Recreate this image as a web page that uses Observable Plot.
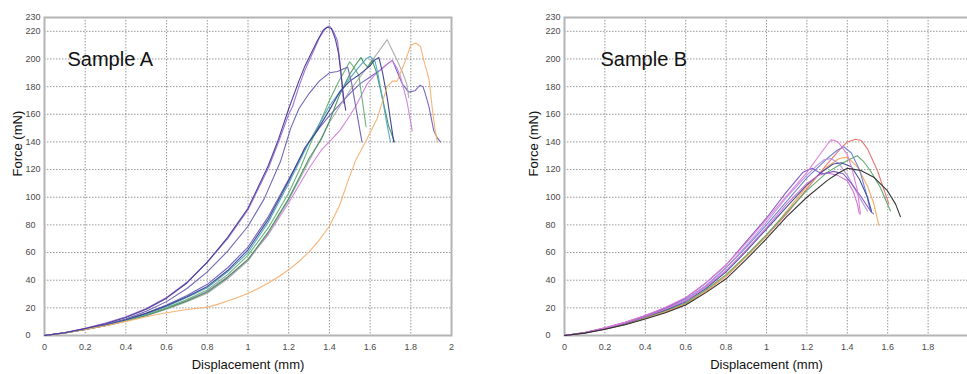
<!DOCTYPE html>
<html>
<head>
<meta charset="utf-8">
<script src="https://cdn.jsdelivr.net/npm/d3@7"></script>
<script src="https://cdn.jsdelivr.net/npm/@observablehq/plot@0.6"></script>
<style>
  html, body { margin: 0; padding: 0; background: #fff; width: 967px; height: 374px; overflow: hidden; }
  #left { position: absolute; left: 0; top: 0; width: 480px; }
  #right { position: absolute; left: 480px; top: 0; width: 490px; }
</style>
</head>
<body>
<div id="left"></div>
<div id="right"></div>
<script>
// ---- tick values ----
const xTicksA = [0, 0.2, 0.4, 0.6, 0.8, 1, 1.2, 1.4, 1.6, 1.8, 2];
const xTicksB = [0, 0.2, 0.4, 0.6, 0.8, 1, 1.2, 1.4, 1.6, 1.8];
const xGrid = [0.2, 0.4, 0.6, 0.8, 1, 1.2, 1.4, 1.6, 1.8];
const yTicks = [0, 20, 40, 60, 80, 100, 120, 140, 160, 180, 200, 220, 230];
const yGrid = [20, 40, 60, 80, 100, 120, 140, 160, 180, 200, 220];

// ---- Sample A curves: [displacement mm, force mN] ----
const a1 = [[0,0],[0.1,2],[0.2,5],[0.3,8.5],[0.4,13],[0.5,19],[0.6,27],[0.7,38],[0.8,53],[0.9,71],[1.0,92],[1.1,123],[1.15,142],[1.2,164],[1.25,184],[1.28,195],[1.31,204],[1.34,213],[1.37,221],[1.39,223],[1.41,222],[1.43,214],[1.445,204],[1.455,192],[1.47,172],[1.48,163]];
const a2 = [[0,0],[0.1,2.2],[0.2,5.3],[0.3,9],[0.4,13.5],[0.5,19.5],[0.6,27.5],[0.7,38.5],[0.8,53],[0.9,70],[1.0,91],[1.1,121],[1.15,140],[1.2,160],[1.22,166],[1.25,180],[1.28,192],[1.32,205],[1.35,215],[1.38,222],[1.4,224],[1.42,220],[1.44,213],[1.45,200],[1.46,185],[1.47,168]];
const a3 = [[0,0],[0.1,2],[0.2,4.8],[0.3,8],[0.4,12],[0.5,17.5],[0.6,24.5],[0.7,34],[0.8,46],[0.9,61],[1.0,79],[1.08,99],[1.16,126],[1.21,150],[1.25,164],[1.3,175],[1.35,184],[1.4,190],[1.44,191],[1.47,193],[1.49,194],[1.51,182],[1.53,165],[1.56,140]];
const a4 = [[0,0],[0.1,1.8],[0.2,4.4],[0.3,7.2],[0.4,10.8],[0.5,15],[0.6,20],[0.7,26],[0.8,33],[0.9,44],[1.0,58],[1.1,78],[1.2,103],[1.26,122],[1.31,140],[1.36,156],[1.4,170],[1.45,185],[1.47,190],[1.5,198],[1.52,194],[1.545,188],[1.56,172],[1.58,151]];
const a5 = [[0,0],[0.1,1.8],[0.2,4.3],[0.3,7],[0.4,10.5],[0.5,14.5],[0.6,19.5],[0.7,25],[0.8,31.5],[0.9,42],[1.0,55],[1.1,75],[1.2,99],[1.3,128],[1.36,142],[1.4,155],[1.45,174],[1.5,189],[1.53,196],[1.555,201],[1.57,197],[1.59,194],[1.61,199],[1.63,191],[1.66,172],[1.69,152],[1.72,140]];
const a6 = [[0,0],[0.1,1.9],[0.2,4.5],[0.3,7.5],[0.4,11.2],[0.5,15.8],[0.6,21],[0.7,27.5],[0.8,34.5],[0.9,46],[1.0,60],[1.1,82],[1.2,110],[1.3,140],[1.35,153],[1.4,166],[1.45,176],[1.5,186],[1.55,195],[1.58,200],[1.6,202],[1.625,198],[1.64,188],[1.66,172],[1.68,155],[1.7,140]];
const a7 = [[0,0],[0.1,2],[0.2,4.6],[0.3,7.6],[0.4,11.4],[0.5,16],[0.6,21.5],[0.7,28],[0.8,35.5],[0.9,47],[1.0,62],[1.1,84],[1.2,112],[1.28,136],[1.33,146],[1.4,163],[1.45,176],[1.5,184],[1.55,189],[1.6,195],[1.62,199],[1.643,201],[1.66,191],[1.684,172],[1.7,156],[1.716,140]];
const a8 = [[0,0],[0.1,1.8],[0.2,4.3],[0.3,7],[0.4,10.4],[0.5,14.3],[0.6,19],[0.7,24.5],[0.8,30.5],[0.9,41],[1.0,54],[1.1,74],[1.2,98],[1.3,126],[1.4,154],[1.5,177],[1.55,187],[1.6,197],[1.64,205],[1.684,214],[1.71,206],[1.733,199],[1.76,190],[1.78,182],[1.79,172]];
const a9 = [[0,0],[0.1,1.8],[0.2,4.4],[0.3,7.2],[0.4,10.8],[0.5,14.8],[0.6,19.8],[0.7,25.5],[0.8,32],[0.9,42.5],[1.0,55],[1.1,73],[1.2,96],[1.3,121],[1.36,134],[1.405,141],[1.45,148],[1.487,156],[1.53,166],[1.586,182],[1.62,188],[1.65,192],[1.69,197],[1.708,199],[1.73,194],[1.75,187],[1.78,170],[1.795,158],[1.807,148]];
const a10 = [[0,0],[0.1,2],[0.2,4.7],[0.3,7.8],[0.4,11.6],[0.5,16.3],[0.6,22],[0.7,29],[0.8,37],[0.9,49],[1.0,64],[1.1,86],[1.2,113],[1.3,140],[1.35,150],[1.4,159],[1.45,167],[1.5,175],[1.55,182],[1.6,187],[1.65,192],[1.69,197],[1.71,199],[1.735,190],[1.758,182],[1.79,176],[1.82,177],[1.845,181],[1.86,180],[1.875,173],[1.89,165],[1.913,148],[1.93,143],[1.946,140]];
const a11 = [[0,0],[0.1,1.8],[0.2,4.3],[0.3,7],[0.4,10.2],[0.5,13.5],[0.6,16.5],[0.7,18.8],[0.8,20.5],[0.85,22.5],[0.9,25],[0.95,27.5],[1.0,30.5],[1.05,34],[1.1,38],[1.15,42.5],[1.2,47.5],[1.25,53.5],[1.3,60.5],[1.35,69],[1.4,79],[1.45,94],[1.487,110],[1.53,127],[1.577,140],[1.635,157],[1.684,180],[1.71,184],[1.733,184],[1.755,192],[1.774,199],[1.8,210],[1.823,211.5],[1.848,209],[1.864,199],[1.89,185],[1.905,165],[1.92,148],[1.93,140]];

// ---- Sample B curves ----
const b1 = [[0,0],[0.1,2.2],[0.2,5.5],[0.3,9.5],[0.4,14.5],[0.5,20.5],[0.6,27.5],[0.7,38],[0.8,51],[0.9,67],[1.0,84],[1.1,101],[1.2,118],[1.25,128],[1.3,138],[1.32,141.5],[1.34,141],[1.36,139],[1.4,131],[1.424,120],[1.45,105],[1.465,88]];
const b2 = [[0,0],[0.1,1.8],[0.2,4.5],[0.3,8],[0.4,12.5],[0.5,17],[0.6,22.5],[0.7,32],[0.8,43],[0.9,57],[1.0,72],[1.1,88],[1.2,106],[1.3,124],[1.36,134],[1.4,140],[1.44,142],[1.47,141],[1.5,135],[1.55,119],[1.58,106],[1.606,95]];
const b3 = [[0,0],[0.1,2],[0.2,5],[0.3,9],[0.4,14],[0.5,19.5],[0.6,26],[0.7,36],[0.8,49],[0.9,64],[1.0,80],[1.1,97],[1.2,114],[1.3,128],[1.35,134],[1.383,136.5],[1.42,132],[1.46,120],[1.49,105],[1.515,90],[1.53,88]];
const b4 = [[0,0],[0.1,1.8],[0.2,4.5],[0.3,8.3],[0.4,13],[0.5,18],[0.6,23.5],[0.7,33],[0.8,44],[0.9,58],[1.0,73],[1.1,89],[1.2,105],[1.3,118],[1.38,125],[1.42,128],[1.449,130],[1.48,126],[1.515,119],[1.564,107],[1.59,98],[1.614,90]];
const b5 = [[0,0],[0.1,1.7],[0.2,4.5],[0.3,7.8],[0.4,12],[0.5,16.5],[0.6,22],[0.7,31],[0.8,41],[0.9,55],[1.0,70],[1.1,86],[1.2,100],[1.3,112],[1.35,117],[1.4,121],[1.44,120],[1.465,119.5],[1.531,114.5],[1.597,105],[1.639,95],[1.663,86]];
const b6 = [[0,0],[0.1,1.8],[0.2,4.5],[0.3,8],[0.4,12.5],[0.5,17.5],[0.6,23],[0.7,32],[0.8,43],[0.9,57],[1.0,72],[1.1,90],[1.2,108],[1.3,122],[1.36,128],[1.4,129],[1.45,122],[1.5,108],[1.53,96],[1.556,80]];
const b7 = [[0,0],[0.1,2.2],[0.2,5.5],[0.3,9.5],[0.4,14.5],[0.5,20],[0.6,27],[0.7,38],[0.8,51],[0.9,68],[1.0,85],[1.1,104],[1.18,118],[1.226,121],[1.26,118],[1.284,117],[1.333,118.7],[1.38,117],[1.42,110],[1.47,100],[1.52,89]];
const b8 = [[0,0],[0.1,2],[0.2,5],[0.3,9],[0.4,14],[0.5,19.5],[0.6,26],[0.7,36],[0.8,49],[0.9,65],[1.0,82],[1.1,100],[1.2,116],[1.25,123],[1.284,127],[1.32,128],[1.36,124],[1.4,116],[1.44,105],[1.48,95],[1.5,90]];
const b9 = [[0,0],[0.1,2],[0.2,5],[0.3,8.8],[0.4,13.5],[0.5,19],[0.6,25],[0.7,35],[0.8,47],[0.9,62],[1.0,78],[1.1,95],[1.2,110],[1.26,116],[1.3,117.5],[1.35,116],[1.4,112],[1.43,104],[1.45,95],[1.46,88]];
const b10 = [[0,0],[0.1,2],[0.2,5],[0.3,8.7],[0.4,13.5],[0.5,18.5],[0.6,24.5],[0.7,34],[0.8,46],[0.9,61],[1.0,77],[1.1,93],[1.2,109],[1.28,119],[1.33,124],[1.37,125],[1.42,122],[1.46,113],[1.5,100],[1.52,90]];

// ---- line colours ----
const seriesA = [a10, a9, a8, a5, a4, a6, a7, a3, a11, a2, a1];
const colorsA = ["#6e5fbf", "#cf7ee0", "#a9a9a9", "#3f8f5c", "#62b070", "#4fa8bd", "#38408e", "#6a5fb0", "#f5b070", "#9a6fd6", "#46398f"];
const seriesB = [b2, b6, b4, b3, b8, b10, b9, b7, b1, b5];
const colorsB = ["#e8706a", "#f3a65a", "#5aa866", "#6c7fd0", "#b490e0", "#3d4a96", "#cf6fd0", "#7b56c2", "#e07ad8", "#2a2a2a"];

const FONT = "Liberation Sans, Arial, Helvetica, sans-serif";

function chart({series, colors, title, xTicks, width, marginLeft, marginRight, titleDx, ylabelDx}) {
  const lines = series.map((pts, i) =>
    Plot.line(pts, {x: d => d[0], y: d => d[1], stroke: colors[i], strokeWidth: 1.1, strokeOpacity: 0.95, curve: "linear"})
  );
  return Plot.plot({
    width, height: 374,
    marginLeft, marginRight, marginTop: 17, marginBottom: 39,
    style: {fontFamily: FONT, background: "transparent"},
    x: {domain: [0, 2], axis: null},
    y: {domain: [0, 230], axis: null},
    marks: [
      Plot.gridX(xGrid, {stroke: "#8c8c8c", strokeOpacity: 0.9, strokeWidth: 1, strokeDasharray: "1.5,1.5"}),
      Plot.gridY(yGrid, {stroke: "#8c8c8c", strokeOpacity: 0.9, strokeWidth: 1, strokeDasharray: "1.5,1.5"}),
      Plot.frame({stroke: "#b4b4b4", strokeWidth: 2}),
      ...lines,
      Plot.axisX(xTicks, {tickSize: 0, tickPadding: 8, fontSize: 9, fill: "#4a4a4a", label: null, tickFormat: d => String(d)}),
      Plot.axisY(yTicks, {tickSize: 0, tickPadding: 0, textAnchor: "start", dx: -19, fontSize: 9, fill: "#4a4a4a", label: null}),
      Plot.text(["Displacement (mm)"], {frameAnchor: "bottom", dy: 33, fontSize: 13, fill: "#111"}),
      Plot.text(["Force (mN)"], {frameAnchor: "left", dx: ylabelDx, rotate: -90, fontSize: 13, fill: "#111"}),
      Plot.text([title], {frameAnchor: "top-left", dx: titleDx, dy: 34, textAnchor: "start", fontSize: 20, fill: "#111"})
    ]
  });
}

document.getElementById("left").append(chart({
  series: seriesA, colors: colorsA, title: "Sample A", xTicks: xTicksA,
  width: 480, marginLeft: 44, marginRight: 29, titleDx: 23, ylabelDx: -27
}));
document.getElementById("right").append(chart({
  series: seriesB, colors: colorsB, title: "Sample B", xTicks: xTicksB,
  width: 490, marginLeft: 84, marginRight: 2, titleDx: 36, ylabelDx: -31
}));
</script>
</body>
</html>
